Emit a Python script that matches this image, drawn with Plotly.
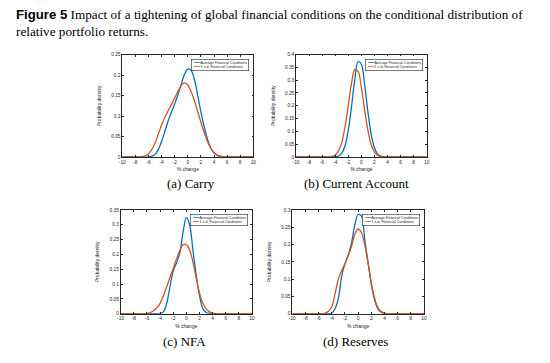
import plotly.graph_objects as go

# ---------------- data ----------------
x_grid = [-10, -9.5, -9, -8.5, -8, -7.5, -7, -6.5, -6, -5.5, -5, -4.5, -4, -3.5, -3, -2.5, -2, -1.5, -1, -0.5,
          0, 0.5, 1, 1.5, 2, 2.5, 3, 3.5, 4, 4.5, 5, 5.5, 6, 6.5, 7, 7.5, 8, 8.5, 9, 9.5, 10]

carry_avg = [0]*9 + [0.002, 0.006, 0.018, 0.038, 0.063, 0.088, 0.11, 0.13, 0.152, 0.178, 0.202, 0.215,
                     0.212, 0.19, 0.152, 0.11, 0.074, 0.044, 0.022, 0.01, 0.004, 0.001] + [0]*10
carry_sd = [0]*6 + [0.001, 0.003, 0.008, 0.018, 0.034, 0.056, 0.078, 0.097, 0.113, 0.128, 0.144, 0.161,
                    0.175, 0.181, 0.176, 0.16, 0.138, 0.112, 0.085, 0.06, 0.038, 0.022, 0.011, 0.005,
                    0.002, 0.0005] + [0]*9
ca_avg = [0]*12 + [0.001, 0.004, 0.015, 0.044, 0.104, 0.198, 0.302, 0.372, 0.362, 0.282, 0.177, 0.089,
                   0.036, 0.011, 0.003, 0.0006] + [0]*13
ca_sd = [0]*11 + [0.002, 0.008, 0.023, 0.057, 0.118, 0.202, 0.288, 0.34, 0.334, 0.272, 0.184, 0.104,
                  0.049, 0.019, 0.006, 0.0016, 0.0003] + [0]*13
nfa_avg = [0]*12 + [0.001, 0.006, 0.035, 0.09, 0.145, 0.172, 0.205, 0.275, 0.325, 0.3, 0.215, 0.13,
                    0.062, 0.018, 0.004, 0.001] + [0]*13
nfa_sd = [0]*8 + [0.001, 0.004, 0.01, 0.02, 0.035, 0.06, 0.09, 0.122, 0.153, 0.185, 0.213, 0.233,
                  0.233, 0.215, 0.175, 0.12, 0.07, 0.036, 0.017, 0.007, 0.002, 0.0005] + [0]*11
res_avg = [0]*12 + [0.002, 0.015, 0.045, 0.108, 0.145, 0.17, 0.205, 0.258, 0.287, 0.283, 0.215, 0.148,
                    0.085, 0.04, 0.014, 0.004, 0.001] + [0]*12
res_sd = [0]*10 + [0.002, 0.007, 0.02, 0.058, 0.1, 0.125, 0.145, 0.168, 0.195, 0.23, 0.245, 0.235,
                   0.2, 0.148, 0.09, 0.045, 0.018, 0.006, 0.0015] + [0]*12

x_tickvals = [-10, -8, -6, -4, -2, 0, 2, 4, 6, 8, 10]
x_ticktext = ["-10", "-8", "-6", "-4", "-2", "0", "2", "4", "6", "8", "10"]
y_max = [0.25, 0.4, 0.35, 0.3]
series_names = ["Average Financial Conditions", "1 s.d. Financial Conditions"]
captions = ["(a) Carry", "(b) Current Account", "(c) NFA", "(d) Reserves"]
panels = [(carry_avg, carry_sd), (ca_avg, ca_sd), (nfa_avg, nfa_sd), (res_avg, res_sd)]

title_bold = "Figure 5"
title_text = ("Impact of a tightening of global financial conditions on the conditional distribution of"
              "<br>relative portfolio returns.")

# ---------------- style ----------------
W, H = 550, 363
BLUE = "#0072BD"
ORANGE = "#D95319"
AX = "#262626"
SERIF = "Liberation Serif, DejaVu Serif, serif"
SANS = "Liberation Sans, Arial, sans-serif"

# pixel boxes (left, right, top, bottom)
boxes = [(122.3, 253.3, 54.7, 157.0),
         (296.0, 426.7, 54.5, 157.0),
         (120.7, 252.0, 210.0, 313.7),
         (292.3, 424.0, 210.0, 313.7)]
caption_pos = [(191, 183), (356, 183), (184, 341), (355, 341)]

fig = go.Figure()
layout = dict(width=W, height=H, margin=dict(l=0, r=0, t=0, b=0),
              paper_bgcolor="white", plot_bgcolor="white", showlegend=False,
              annotations=[])

for i, (avg, sd) in enumerate(panels):
    n = "" if i == 0 else str(i + 1)
    xa, ya = "x" + n, "y" + n
    fig.add_trace(go.Scatter(x=x_grid, y=avg, name=series_names[0], mode="lines",
                             line=dict(color=BLUE, width=1.3, shape="spline", smoothing=1),
                             xaxis=xa, yaxis=ya))
    fig.add_trace(go.Scatter(x=x_grid, y=sd, name=series_names[1], mode="lines",
                             line=dict(color=ORANGE, width=1.3, shape="spline", smoothing=1),
                             xaxis=xa, yaxis=ya))
    l, r, t, b = boxes[i]
    common = dict(showline=True, linecolor=AX, linewidth=0.6, mirror="ticks", ticks="inside",
                  ticklen=2, tickwidth=0.6, tickcolor=AX, showgrid=False, zeroline=False,
                  automargin=False, tickfont=dict(family=SANS, size=4.8, color=AX))
    layout["xaxis" + n] = dict(common, domain=[l / W, r / W], range=[-10, 10],
                               tickvals=x_tickvals, ticktext=x_ticktext, anchor=ya,
                               title=dict(text="% change", standoff=3.5,
                                          font=dict(family=SANS, size=5, color=AX)))
    layout["yaxis" + n] = dict(common, domain=[1 - b / H, 1 - t / H], range=[0, y_max[i]],
                               dtick=0.05, anchor=xa,
                               title=dict(text="Probability density", standoff=9,
                                          font=dict(family=SANS, size=5, color=AX)))
    legend_txt = (f"<span style='color:{BLUE}'>━━━</span> {series_names[0]}<br>"
                  f"<span style='color:{ORANGE}'>━━━</span> {series_names[1]}")
    layout["annotations"].append(dict(
        xref=xa + " domain", yref=ya + " domain", x=1, y=1, xanchor="right", yanchor="top",
        xshift=-4, yshift=-4, text=legend_txt, showarrow=False, align="left",
        font=dict(family=SANS, size=3.6, color=AX), bordercolor=AX, borderwidth=0.6,
        borderpad=1, bgcolor="white"))
    cx, cy = caption_pos[i]
    layout["annotations"].append(dict(
        xref="paper", yref="paper", x=cx / W, y=1 - cy / H, xanchor="center", yanchor="middle",
        text=captions[i], showarrow=False, font=dict(family=SERIF, size=13, color="black")))

layout["annotations"].append(dict(
    xref="paper", yref="paper", x=14 / W, y=1 - 5 / H, xanchor="left", yanchor="top",
    align="left", showarrow=False,
    text=f"<span style='font-family:{SANS};font-weight:bold'>{title_bold}</span> {title_text}",
    font=dict(family=SERIF, size=13.2, color="black")))

fig.update_layout(**layout)
fig.write_html("out.html", config={"displayModeBar": False},
               post_script="document.body.style.margin='0';document.body.style.overflow='hidden';")
